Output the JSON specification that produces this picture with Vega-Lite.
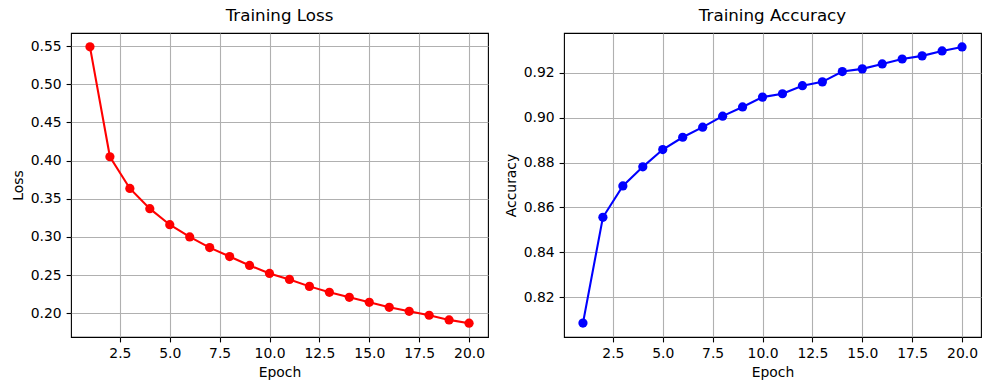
{
  "$schema": "https://vega.github.io/schema/vega-lite/v6.json",
  "padding": {"left": 10, "top": 7, "right": 0, "bottom": 0},
  "background": "white",
  "data": {"values": [
    {"epoch": 1, "loss": 0.549, "accuracy": 0.8084},
    {"epoch": 2, "loss": 0.405, "accuracy": 0.8556},
    {"epoch": 3, "loss": 0.3635, "accuracy": 0.8696},
    {"epoch": 4, "loss": 0.337, "accuracy": 0.8781},
    {"epoch": 5, "loss": 0.316, "accuracy": 0.8858},
    {"epoch": 6, "loss": 0.300, "accuracy": 0.8913},
    {"epoch": 7, "loss": 0.286, "accuracy": 0.8958},
    {"epoch": 8, "loss": 0.2743, "accuracy": 0.9007},
    {"epoch": 9, "loss": 0.2626, "accuracy": 0.9048},
    {"epoch": 10, "loss": 0.2522, "accuracy": 0.9092},
    {"epoch": 11, "loss": 0.2443, "accuracy": 0.9107},
    {"epoch": 12, "loss": 0.2352, "accuracy": 0.9143},
    {"epoch": 13, "loss": 0.2274, "accuracy": 0.916},
    {"epoch": 14, "loss": 0.2209, "accuracy": 0.9206},
    {"epoch": 15, "loss": 0.2143, "accuracy": 0.9218},
    {"epoch": 16, "loss": 0.2078, "accuracy": 0.924},
    {"epoch": 17, "loss": 0.2026, "accuracy": 0.9262},
    {"epoch": 18, "loss": 0.1974, "accuracy": 0.9276},
    {"epoch": 19, "loss": 0.1913, "accuracy": 0.9298},
    {"epoch": 20, "loss": 0.187, "accuracy": 0.9316}
  ]},
  "hconcat": [
    {
      "title": "Training Loss",
      "width": 417,
      "height": 304,
      "mark": {"type": "line", "color": "#ff0000", "strokeWidth": 2.08, "point": {"filled": true, "size": 85, "color": "#ff0000"}},
      "encoding": {
        "x": {"field": "epoch", "type": "quantitative", "scale": {"domain": [0.05, 20.95], "nice": false, "zero": false},
              "axis": {"title": "Epoch", "values": [2.5, 5, 7.5, 10, 12.5, 15, 17.5, 20], "format": ".1f", "labelBaseline": "alphabetic", "labelPadding": 15.4, "titleBaseline": "alphabetic", "titleY": 39}},
        "y": {"field": "loss", "type": "quantitative", "scale": {"domain": [0.1689, 0.5671], "nice": false, "zero": false},
              "axis": {"title": "Loss", "values": [0.2, 0.25, 0.3, 0.35, 0.4, 0.45, 0.5, 0.55], "format": ".2f", "titleBaseline": "alphabetic", "titleX": -49}}
      }
    },
    {
      "title": "Training Accuracy",
      "width": 417,
      "height": 304,
      "mark": {"type": "line", "color": "#0000ff", "strokeWidth": 2.08, "point": {"filled": true, "size": 85, "color": "#0000ff"}},
      "encoding": {
        "x": {"field": "epoch", "type": "quantitative", "scale": {"domain": [0.05, 20.95], "nice": false, "zero": false},
              "axis": {"title": "Epoch", "values": [2.5, 5, 7.5, 10, 12.5, 15, 17.5, 20], "format": ".1f", "labelBaseline": "alphabetic", "labelPadding": 15.4, "titleBaseline": "alphabetic", "titleY": 39}},
        "y": {"field": "accuracy", "type": "quantitative", "scale": {"domain": [0.8022, 0.9378], "nice": false, "zero": false},
              "axis": {"title": "Accuracy", "values": [0.82, 0.84, 0.86, 0.88, 0.9, 0.92], "format": ".2f", "titleBaseline": "alphabetic", "titleX": -49}}
      }
    }
  ],
  "spacing": 76,
  "bounds": "flush",
  "config": {
    "font": "DejaVu Sans",
    "view": {"stroke": "black", "strokeWidth": 1.1},
    "axis": {"domain": false, "grid": true, "gridColor": "#b0b0b0", "gridWidth": 1.1, "gridOpacity": 1,
             "tickColor": "black", "tickWidth": 1.1, "tickSize": 4.9, "labelPadding": 4.9,
             "labelFont": "DejaVu Sans", "labelFontSize": 13.9, "labelColor": "black",
             "titleFont": "DejaVu Sans", "titleFontSize": 13.9, "titleFontWeight": "normal", "titleColor": "black"},
    "title": {"font": "DejaVu Sans", "fontSize": 16.7, "fontWeight": "normal", "color": "black", "baseline": "alphabetic", "offset": 8.4}
  }
}
